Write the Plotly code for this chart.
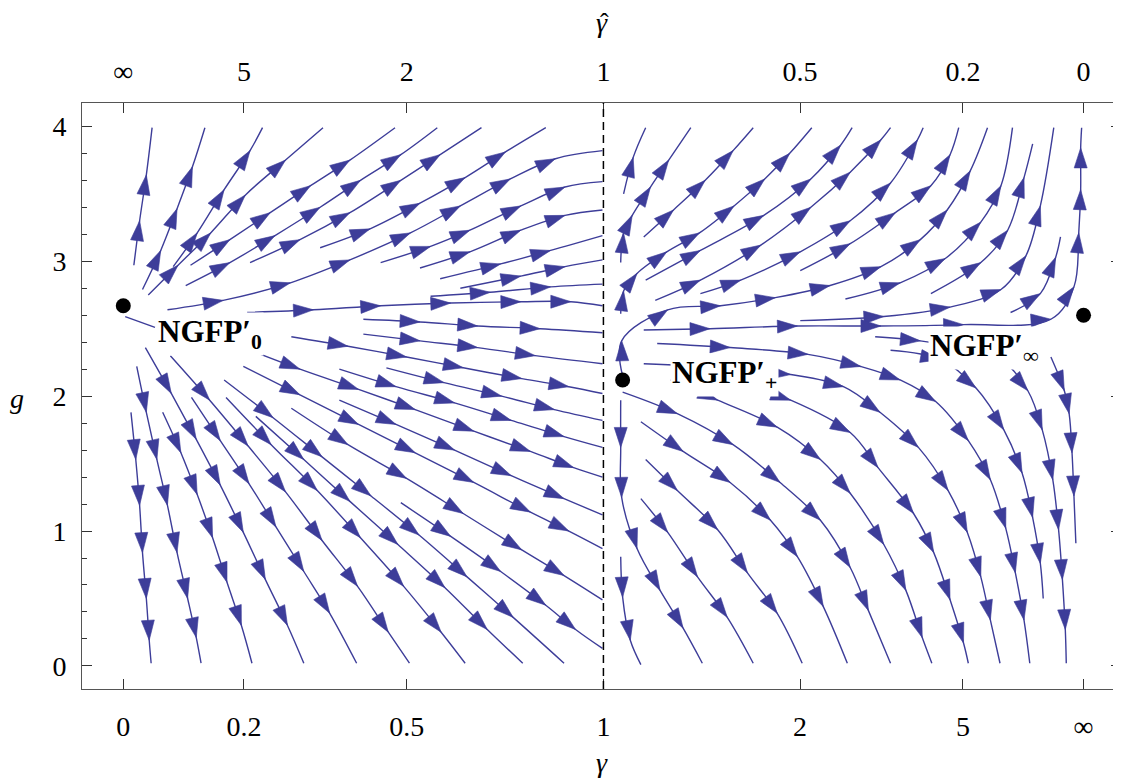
import numpy as np
import plotly.graph_objects as go

# x axis is the compactified coupling 2/pi * arctan(gamma); top axis is gamma_hat = 1/gamma
gamma_ticks = [0, 0.2, 0.5, 1, 2, 5, np.inf]
gamma_tick_text = ["0", "0.2", "0.5", "1", "2", "5", "∞"]
gamma_hat_tick_text = ["∞", "5", "2", "1", "0.5", "0.2", "0"]
g_ticks = [0, 1, 2, 3, 4]

# fixed points (compactified gamma, g)
fp_x = [0.0, 0.520, 1.0]
fp_g = [2.67, 2.12, 2.60]
fp_names = ["NGFP′<sub>0</sub>", "NGFP′<sub>+</sub>", "NGFP′<sub>∞</sub>"]

# streamlines, (compactified gamma, g)
left_top_streams = [
    [(0.011, 2.97), (0.017, 3.30), (0.024, 3.64), (0.030, 3.99)],
    [(0.020, 2.79), (0.039, 3.08), (0.056, 3.39), (0.072, 3.70), (0.085, 3.99)],
    [(0.052, 2.96), (0.077, 3.21), (0.105, 3.53), (0.132, 3.82), (0.145, 3.99)],
    [(0.026, 2.75), (0.057, 2.97), (0.091, 3.21), (0.127, 3.49), (0.169, 3.75), (0.208, 3.99)],
    [(0.070, 2.97), (0.111, 3.16), (0.153, 3.36), (0.195, 3.56), (0.236, 3.75), (0.283, 3.99)],
    [(0.065, 2.82), (0.111, 2.99), (0.158, 3.19), (0.205, 3.40), (0.247, 3.60), (0.289, 3.79), (0.327, 3.99)],
    [(0.132, 2.99), (0.184, 3.16), (0.236, 3.36), (0.289, 3.60), (0.330, 3.79), (0.373, 3.99)],
    [(0.205, 3.10), (0.257, 3.24), (0.309, 3.43), (0.356, 3.62), (0.398, 3.81), (0.440, 3.99)],
]

left_mid_streams = [
    [(0.046, 2.64), (0.104, 2.71), (0.174, 2.84), (0.236, 3.01), (0.299, 3.21), (0.351, 3.41),
     (0.403, 3.61), (0.450, 3.76), (0.499, 3.82)],
    [(0.268, 2.99), (0.320, 3.11), (0.361, 3.23), (0.414, 3.41), (0.460, 3.55), (0.499, 3.59)],
    [(0.309, 2.95), (0.361, 3.07), (0.414, 3.23), (0.460, 3.34), (0.499, 3.38)],
    [(0.330, 2.87), (0.393, 2.98), (0.445, 3.08), (0.499, 3.19)],
    [(0.351, 2.80), (0.414, 2.89), (0.460, 2.96), (0.499, 3.01)],
    [(0.320, 2.74), (0.382, 2.77), (0.445, 2.81), (0.499, 2.83)],
    [(0.129, 2.62), (0.198, 2.64), (0.268, 2.67), (0.341, 2.69), (0.414, 2.70), (0.466, 2.70), (0.499, 2.67)],
    [(0.250, 2.57), (0.309, 2.55), (0.369, 2.52), (0.434, 2.50), (0.499, 2.47)],
    [(0.250, 2.46), (0.309, 2.41), (0.369, 2.36), (0.429, 2.30), (0.499, 2.24)],
    [(0.175, 2.44), (0.234, 2.37), (0.295, 2.29), (0.354, 2.21), (0.415, 2.13), (0.464, 2.07), (0.499, 2.02)],
    [(0.274, 2.21), (0.334, 2.10), (0.394, 2.00), (0.449, 1.90), (0.499, 1.82)],
    [(0.225, 2.20), (0.284, 2.07), (0.345, 1.95), (0.404, 1.82), (0.459, 1.70), (0.499, 1.62)],
    [(0.125, 2.36), (0.184, 2.20), (0.245, 2.05), (0.304, 1.90), (0.365, 1.74), (0.424, 1.59),
     (0.469, 1.47), (0.499, 1.40)],
    [(0.225, 1.97), (0.284, 1.79), (0.345, 1.60), (0.404, 1.41), (0.459, 1.24), (0.499, 1.12)],
    [(0.125, 2.22), (0.184, 2.01), (0.245, 1.79), (0.304, 1.58), (0.365, 1.36), (0.424, 1.14),
     (0.464, 1.00), (0.499, 0.87)],
    [(0.175, 1.91), (0.234, 1.64), (0.295, 1.39), (0.354, 1.13), (0.415, 0.86), (0.459, 0.67), (0.499, 0.49)],
    [(0.289, 1.21), (0.341, 0.96), (0.393, 0.70), (0.440, 0.45), (0.471, 0.27), (0.499, 0.13)],
]

left_low_streams = [
    [(0.002, 2.59), (0.033, 2.51)],
    [(0.105, 2.12), (0.156, 1.84), (0.207, 1.55), (0.258, 1.26), (0.308, 0.97), (0.358, 0.66),
     (0.406, 0.36), (0.459, 0.02)],
    [(0.138, 1.85), (0.188, 1.53), (0.236, 1.22), (0.286, 0.90), (0.335, 0.58), (0.379, 0.27), (0.416, 0.02)],
    [(0.107, 1.99), (0.154, 1.64), (0.202, 1.30), (0.247, 0.95), (0.292, 0.59), (0.331, 0.25), (0.356, 0.02)],
    [(0.049, 2.30), (0.090, 1.97), (0.130, 1.63), (0.169, 1.29), (0.207, 0.93), (0.244, 0.59),
     (0.276, 0.25), (0.298, 0.02)],
    [(0.071, 1.99), (0.101, 1.67), (0.131, 1.35), (0.159, 1.03), (0.188, 0.70), (0.215, 0.39), (0.243, 0.02)],
    [(0.023, 2.36), (0.050, 2.02), (0.076, 1.68), (0.101, 1.34), (0.125, 0.99), (0.148, 0.64),
     (0.171, 0.30), (0.188, 0.02)],
    [(0.041, 1.88), (0.060, 1.58), (0.077, 1.27), (0.093, 0.95), (0.108, 0.62), (0.123, 0.30), (0.134, 0.02)],
    [(0.014, 2.22), (0.024, 1.88), (0.035, 1.53), (0.046, 1.19), (0.056, 0.84), (0.067, 0.50),
     (0.076, 0.21), (0.081, 0.02)],
    [(0.008, 1.88), (0.013, 1.53), (0.017, 1.19), (0.020, 0.84), (0.024, 0.50), (0.027, 0.19), (0.029, 0.02)],
]

right_up_streams = [
    [(0.521, 3.50), (0.531, 3.77), (0.544, 3.99)],
    [(0.518, 2.99), (0.521, 3.21), (0.530, 3.34), (0.549, 3.55), (0.568, 3.75), (0.591, 3.99)],
    [(0.542, 3.18), (0.573, 3.38), (0.606, 3.60), (0.635, 3.82), (0.656, 3.99)],
    [(0.518, 2.61), (0.521, 2.78), (0.535, 2.91), (0.566, 3.07), (0.600, 3.21), (0.636, 3.41),
     (0.668, 3.61), (0.694, 3.80), (0.717, 3.99)],
    [(0.544, 2.86), (0.601, 3.08), (0.667, 3.34), (0.716, 3.61), (0.747, 3.86), (0.759, 3.99)],
    [(0.554, 2.71), (0.601, 2.86), (0.664, 3.12), (0.716, 3.40), (0.757, 3.66), (0.789, 3.90), (0.799, 3.99)],
    [(0.601, 2.76), (0.643, 2.86), (0.705, 3.07), (0.757, 3.30), (0.799, 3.58), (0.827, 3.90), (0.833, 3.99)],
    [(0.705, 2.93), (0.757, 3.13), (0.804, 3.36), (0.841, 3.56), (0.861, 3.79), (0.870, 3.99)],
    [(0.520, 2.15), (0.519, 2.41), (0.567, 2.64), (0.622, 2.67), (0.679, 2.73), (0.736, 2.82),
     (0.789, 2.96), (0.830, 3.16), (0.858, 3.38), (0.882, 3.67), (0.900, 3.99)],
    [(0.752, 2.72), (0.809, 2.84), (0.856, 3.02), (0.893, 3.29), (0.914, 3.56), (0.926, 3.99)],
    [(0.841, 2.76), (0.893, 2.99), (0.921, 3.23), (0.938, 3.62), (0.947, 3.87)],
    [(0.705, 2.56), (0.792, 2.59), (0.861, 2.66), (0.914, 2.79), (0.940, 3.04), (0.955, 3.41), (0.969, 3.99)],
    [(0.924, 2.62), (0.955, 2.76), (0.971, 3.03), (0.976, 3.18)],
    [(0.542, 2.49), (0.611, 2.50), (0.702, 2.52), (0.789, 2.52), (0.875, 2.53), (0.966, 2.57),
     (0.990, 2.81), (0.995, 3.21), (0.997, 3.53), (0.997, 3.84), (0.998, 3.99)],
]

right_low_streams = [
    [(0.518, 1.97), (0.518, 1.62), (0.519, 1.25), (0.535, 0.87), (0.559, 0.56), (0.583, 0.28), (0.603, 0.02)],
    [(0.518, 0.81), (0.520, 0.51), (0.528, 0.19), (0.539, 0.01)],
    [(0.539, 1.24), (0.567, 0.99), (0.598, 0.66), (0.629, 0.36), (0.656, 0.02)],
    [(0.544, 1.53), (0.577, 1.30), (0.619, 1.01), (0.650, 0.69), (0.681, 0.39), (0.707, 0.02)],
    [(0.539, 1.81), (0.583, 1.59), (0.632, 1.36), (0.674, 1.08), (0.702, 0.81), (0.729, 0.44), (0.754, 0.02)],
    [(0.520, 2.03), (0.577, 1.87), (0.635, 1.64), (0.684, 1.36), (0.726, 1.08), (0.757, 0.73),
     (0.776, 0.41), (0.799, 0.02)],
    [(0.570, 2.12), (0.619, 1.97), (0.681, 1.77), (0.726, 1.53), (0.757, 1.28), (0.792, 0.90),
     (0.815, 0.56), (0.832, 0.21), (0.842, 0.02)],
    [(0.632, 2.12), (0.695, 1.97), (0.757, 1.73), (0.786, 1.47), (0.823, 1.13), (0.844, 0.84),
     (0.861, 0.49), (0.875, 0.17), (0.880, 0.02)],
    [(0.542, 2.24), (0.622, 2.21), (0.695, 2.16), (0.750, 2.07), (0.788, 1.88), (0.828, 1.62),
     (0.859, 1.30), (0.879, 0.99), (0.893, 0.66), (0.903, 0.34), (0.913, 0.02)],
    [(0.556, 2.39), (0.632, 2.36), (0.713, 2.31), (0.768, 2.22), (0.809, 2.12), (0.846, 1.96),
     (0.880, 1.67), (0.903, 1.38), (0.919, 1.02), (0.929, 0.69), (0.938, 0.34), (0.944, 0.02)],
    [(0.799, 2.34), (0.851, 2.27), (0.888, 2.06), (0.917, 1.75), (0.936, 1.43), (0.947, 1.10),
     (0.955, 0.76), (0.958, 0.50)],
    [(0.783, 2.44), (0.830, 2.41), (0.872, 2.36), (0.914, 2.27), (0.942, 2.04), (0.957, 1.75),
     (0.968, 1.38), (0.974, 1.01), (0.978, 0.64), (0.981, 0.27), (0.982, 0.02)],
    [(0.966, 2.29), (0.980, 2.04), (0.985, 1.87), (0.988, 1.58), (0.990, 1.26), (0.992, 0.91)],
]

STREAM_COLOR = "#3d3d99"
FONT = "Liberation Serif"
X_RANGE = [-0.043, 1.039]
Y_RANGE = [-0.171, 4.173]

tick_pos = [2 / np.pi * np.arctan(v) for v in gamma_ticks]

fig = go.Figure()

all_streams = left_top_streams + left_mid_streams + left_low_streams + right_up_streams + right_low_streams
for stream in all_streams:
    xs = [p[0] for p in stream]
    ys = [p[1] for p in stream]
    # arrowheads on inner points only, pointing along the path
    sizes = [0] + [21] * (len(stream) - 2) + [0]
    fig.add_trace(
        go.Scatter(
            x=xs,
            y=ys,
            mode="lines+markers",
            line=dict(color=STREAM_COLOR, width=1.4, shape="spline", backoff=0),
            marker=dict(
                symbol="arrow",
                size=sizes,
                angleref="previous",
                color=STREAM_COLOR,
                opacity=1,
                line=dict(width=0.6, color=STREAM_COLOR),
            ),
            hoverinfo="skip",
            showlegend=False,
        )
    )

fig.add_shape(
    type="line",
    xref="x",
    yref="paper",
    x0=0.5,
    x1=0.5,
    y0=0,
    y1=1,
    line=dict(color="black", width=1.5, dash="8px,5px"),
)

fig.add_trace(
    go.Scatter(
        x=fp_x,
        y=fp_g,
        mode="markers",
        marker=dict(color="black", size=15),
        hoverinfo="skip",
        showlegend=False,
    )
)

# helper trace so the top / right axes get drawn
fig.add_trace(
    go.Scatter(x=[0.5], y=[2], xaxis="x2", yaxis="y2", mode="markers",
               marker=dict(opacity=0), hoverinfo="skip", showlegend=False)
)

label_pos = [(0.034, 2.46), (0.569, 2.16), (0.838, 2.36)]
for name, (lx, ly) in zip(fp_names, label_pos):
    fig.add_annotation(
        x=lx,
        y=ly,
        xref="x",
        yref="y",
        text=f"<b>{name}</b>",
        showarrow=False,
        xanchor="left",
        yanchor="middle",
        bgcolor="white",
        borderpad=1,
        font=dict(family=FONT, size=31, color="black"),
    )

# axis titles
for text, px_, py_ in [("<i>γ</i>", 0.5005, -0.126), ("<i>γ</i>", 0.5005, 1.138), ("<i>g</i>", -0.063, 0.496)]:
    fig.add_annotation(
        x=px_,
        y=py_,
        xref="paper",
        yref="paper",
        text=text,
        showarrow=False,
        xanchor="center",
        yanchor="middle",
        font=dict(family=FONT, size=28, color="black"),
    )
# hat over the top gamma
fig.add_annotation(
    x=0.5025,
    y=1.166,
    xref="paper",
    yref="paper",
    text="ˆ",
    showarrow=False,
    xanchor="center",
    yanchor="top",
    font=dict(family=FONT, size=26, color="black"),
)

axis_common = dict(
    ticks="inside",
    ticklen=10,
    tickwidth=1,
    tickcolor="#333",
    linecolor="#555",
    linewidth=1,
    showgrid=False,
    zeroline=False,
    tickfont=dict(family=FONT, size=28, color="black"),
)

# page body has an 8px margin, so the figure is 8px smaller on each side
fig.update_layout(
    width=1113,
    height=773,
    autosize=False,
    margin=dict(l=74, r=0, t=95, b=92),
    plot_bgcolor="white",
    paper_bgcolor="white",
    xaxis=dict(
        range=X_RANGE,
        tickmode="array",
        tickvals=tick_pos,
        ticktext=gamma_tick_text,
        showline=True,
        ticklabelstandoff=12,
        **axis_common,
    ),
    xaxis2=dict(
        range=X_RANGE,
        overlaying="x",
        side="top",
        tickmode="array",
        tickvals=tick_pos,
        ticktext=gamma_hat_tick_text,
        showline=True,
        ticklabelstandoff=10,
        **axis_common,
    ),
    yaxis=dict(
        range=Y_RANGE,
        tickmode="array",
        tickvals=g_ticks,
        showline=True,
        ticklabelstandoff=9,
        minor=dict(ticks="inside", ticklen=5, tickcolor="#333", dtick=0.2, showgrid=False),
        **axis_common,
    ),
    yaxis2=dict(
        range=Y_RANGE,
        overlaying="y",
        side="right",
        tickmode="array",
        tickvals=g_ticks,
        showline=False,
        showticklabels=False,
        minor=dict(ticks="inside", ticklen=5, tickcolor="#333", dtick=0.2, showgrid=False),
        **axis_common,
    ),
)

fig.write_html("out.html")
